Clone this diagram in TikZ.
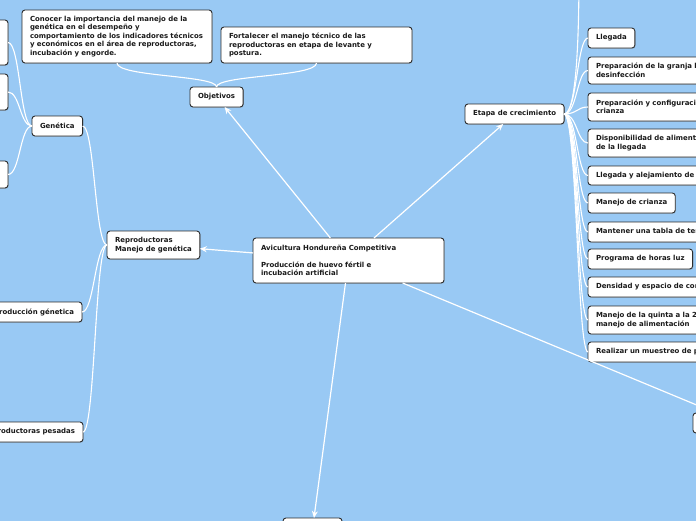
\documentclass[tikz,border=0pt]{standalone}
\usepackage{fontspec}
\setmainfont{DejaVu Sans}
\usetikzlibrary{arrows.meta,shadows}
\definecolor{mapblue}{RGB}{153,201,244}
\definecolor{boxline}{RGB}{45,45,45}

\begin{document}
\begin{tikzpicture}[x=1pt,y=-1pt,>={Stealth[length=7pt,width=6pt]},
  box/.style={draw=boxline,line width=0.9pt,fill=white,rounded corners=3pt,
    anchor=north west,inner xsep=8pt,inner ysep=0pt,outer sep=0pt,align=left,
    minimum height=20pt,text=black!90,
    font=\fontsize{6.95}{8.5}\selectfont\bfseries,
    drop shadow={shadow xshift=0.7pt,shadow yshift=-0.8pt,opacity=0.35}},
  link/.style={white,line width=1.1pt},
  arr/.style={white,line width=1.2pt,->}]
  \useasboundingbox (0,0) rectangle (696,520);
  \clip (0,0) rectangle (696,520);
  \fill[mapblue] (-5,-5) rectangle (701,525);

  \node[box,text width=175pt,minimum height=45pt] (central) at (253,238)
    {Avicultura Hondureña Competitiva\\[8.5pt]Producción de huevo fértil e\\incubación artificial};

  \node[box] (objetivos) at (190,87) {Objetivos};
  \node[box,text width=174pt,minimum height=53pt] (conocer) at (22,10)
    {Conocer la importancia del manejo de la\\genética en el desempeño y\\comportamiento de los indicadores técnicos\\y económicos en el área de reproductoras,\\incubación y engorde.};
  \node[box,text width=175pt,minimum height=36pt] (fortalecer) at (221,27)
    {Fortalecer el manejo técnico de las\\reproductoras en etapa de levante y\\postura.};

  \node[box,minimum height=28pt] (reprod) at (107,231)
    {Reproductoras\\Manejo de genética};
  \node[box] (genetica) at (32,116) {Genética};
  \node[box,anchor=north east,minimum width=60pt,minimum height=45pt] (gena) at (8,20) {};
  \node[box,anchor=north east,minimum width=60pt,minimum height=36pt] (genb) at (8,74) {};
  \node[box,anchor=north east,minimum width=60pt,minimum height=27pt] (genc) at (8,161) {};
  \node[box,anchor=north east] (prodgen) at (82,302) {Reproducción génetica};
  \node[box,anchor=north east] (pesadas) at (83,422) {Reproductoras pesadas};

  \node[box] (etapa) at (465,104) {Etapa de crecimiento};
  \coordinate (upper) at (579,-30);
  \node[box] (llegada) at (588,28) {Llegada};
  \node[box,text width=180pt,minimum height=27pt] (granja) at (588,57)
    {Preparación de la granja limpieza y\\desinfección};
  \node[box,text width=180pt,minimum height=28pt] (config) at (588,93)
    {Preparación y configuración de la\\crianza};
  \node[box,text width=180pt,minimum height=28pt] (dispon) at (588,129)
    {Disponibilidad de alimento y agua antes\\de la llegada};
  \node[box,text width=180pt,minimum height=19pt] (alejam) at (588,166)
    {Llegada y alejamiento de las aves};
  \node[box] (crianza) at (588,193) {Manejo de crianza};
  \node[box,text width=180pt] (tabla) at (588,222) {Mantener una tabla de temperatura};
  \node[box] (luz) at (588,249) {Programa de horas luz};
  \node[box,text width=180pt] (densidad) at (588,277) {Densidad y espacio de comedero};
  \node[box,text width=180pt,minimum height=28pt] (quinta) at (588,306)
    {Manejo de la quinta a la 20 semana y\\manejo de alimentación};
  \node[box,text width=180pt] (muestreo) at (588,342) {Realizar un muestreo de peso};

  \node[box,minimum width=59pt,minimum height=22pt] (abajo) at (283,518) {};
  \node[box,minimum width=94pt] (derecha) at (693,413) {};

  \draw[arr] (central) -- (objetivos);
  \draw[arr] (central) -- (etapa);
  \draw[arr] (central) -- (reprod);
  \draw[arr] (central) -- (abajo);
  \draw[arr] (central) -- (derecha);

  \draw[link] (objetivos.north) .. controls +(0,-12) and +(0,14) .. (conocer.south);
  \draw[link] (objetivos.north) .. controls +(0,-12) and +(0,14) .. (fortalecer.south);

  \foreach \n in {genetica,prodgen,pesadas}
    \draw[link] (reprod.west) .. controls +(-12,0) and +(12,0) .. (\n.east);
  \foreach \n in {gena,genb,genc}
    \draw[link] (genetica.west) .. controls +(-12,0) and +(12,0) .. (\n.east);

  \draw[link] (etapa.east) .. controls +(13,0) and +(0,60) .. (upper);
  \foreach \n in {llegada,granja,config,dispon,alejam,crianza,tabla,luz,densidad,quinta,muestreo}
    \draw[link] (etapa.east) .. controls +(13,0) and +(-11,0) .. (\n.west);
\end{tikzpicture}
\end{document}
